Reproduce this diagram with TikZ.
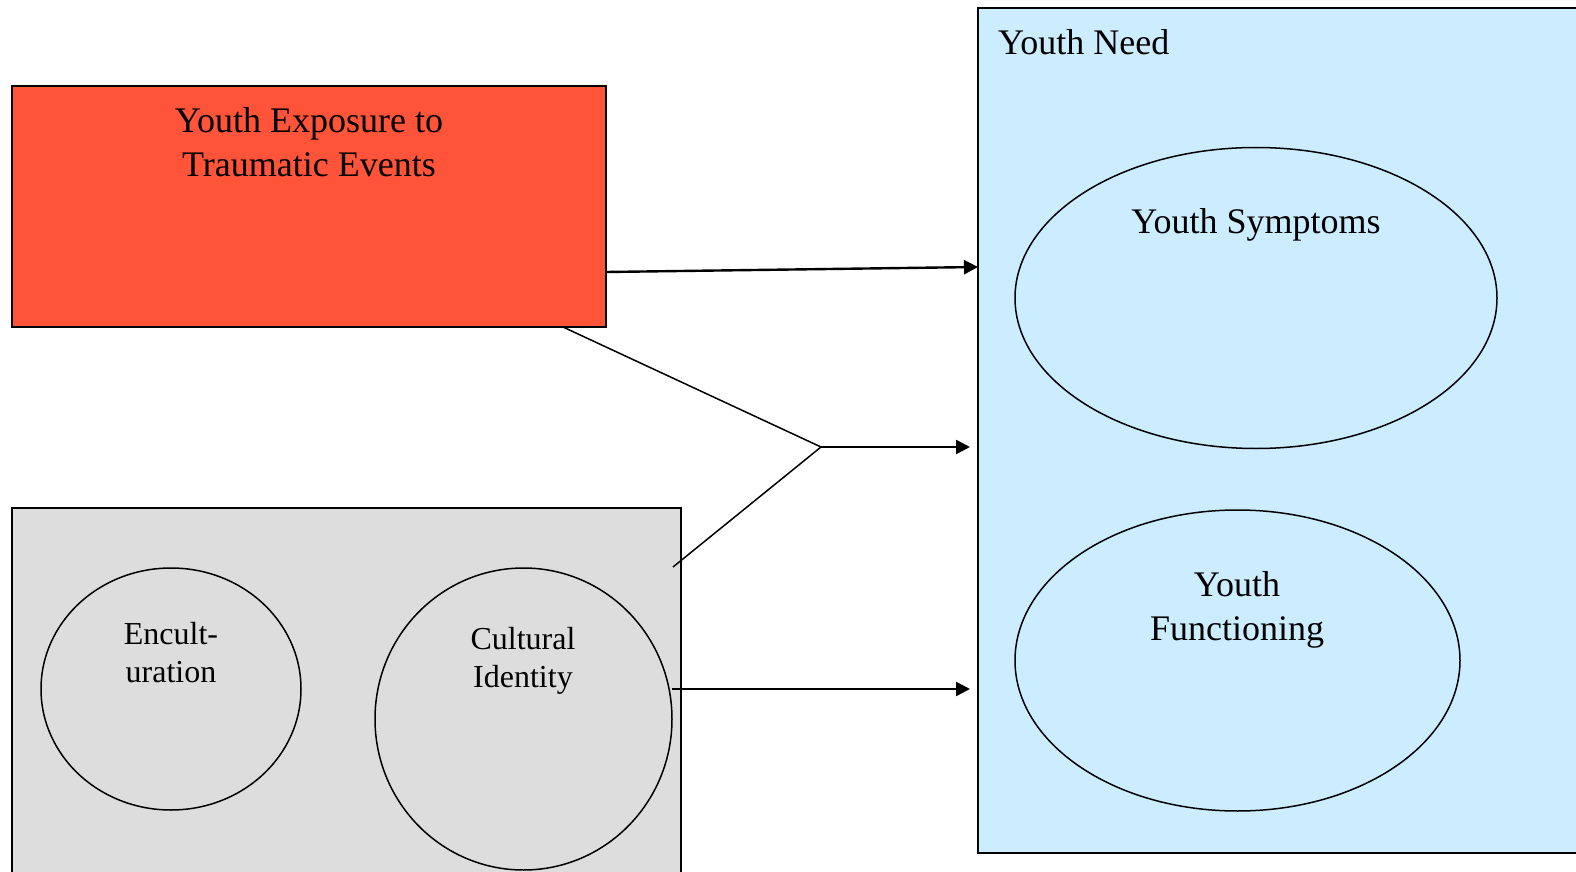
\documentclass[tikz,border=0pt]{standalone}
\usepackage{fontspec}
\setmainfont{Liberation Serif}
\usetikzlibrary{shapes.geometric,arrows.meta}
\definecolor{traumared}{RGB}{255,83,58}
\definecolor{needblue}{RGB}{204,236,255}
\definecolor{culturegray}{RGB}{221,221,221}

\begin{document}
\begin{tikzpicture}
[x=0.5pt, y=-0.5pt, every node/.style={inner sep=0pt, outer sep=0pt},
 box/.style={rectangle, line width=1pt, draw=black},
 oval/.style={ellipse, line width=0.75pt, draw=black},
 big/.style={font=\fontsize{18}{22}\selectfont, align=center},
 small/.style={font=\fontsize{16}{19}\selectfont, align=center},
 arr/.style={line width=1.2pt, -{Triangle[length=7pt, width=7pt]}},
 ln/.style={line width=0.75pt}]
\useasboundingbox (0,0) rectangle (1576,872);
\node (need) [box, fill=needblue, minimum width=311pt, minimum height=422.5pt] at (1289,430.5) {};
\node (trauma) [box, fill=traumared, minimum width=297pt, minimum height=120.5pt] at (309,206.5) {};
\node (culture) [box, fill=culturegray, minimum width=334.5pt, minimum height=196pt] at (346.5,704) {};
\node (symptoms) [oval, minimum width=241pt, minimum height=150.5pt] at (1256,298) {};
\node (functioning) [oval, minimum width=222.5pt, minimum height=150.5pt] at (1237.5,660.5) {};
\node (encult) [oval, minimum width=130pt, minimum height=121pt] at (171,689) {};
\node (ident) [oval, minimum width=148.5pt, minimum height=151pt] at (523.5,719) {};
% texts
\node (needtxt) [big, anchor=base west] at (998,55) {Youth Need};
\node (traumatxt) [big] at (309,142) {Youth Exposure to\\Traumatic Events};
\node (symptomstxt) [big] at (1256,225) {Youth Symptoms};
\node (functioningtxt) [big] at (1237,609.5) {Youth\\Functioning};
\node (enculttxt) [small] at (171,653) {Encult-\\uration};
\node (identtxt) [small] at (523,661) {Cultural\\Identity};
% connectors
\coordinate (j) at (821,447);
\coordinate (c1) at ([yshift=15pt]ident.east);
\draw [arr] ([yshift=-32.75pt]trauma.east) -- ([yshift=81.75pt]need.west);
\draw [ln] ([xshift=127pt]trauma.south) -- (j);
\draw [ln] ([shift={(-4pt,-29.5pt)}]culture.north east) -- (j);
\draw [arr, shorten >=4pt] (j) -- (j -| need.west);
\draw [arr, shorten >=4pt] (c1) -- (c1 -| need.west);
\end{tikzpicture}
\end{document}
